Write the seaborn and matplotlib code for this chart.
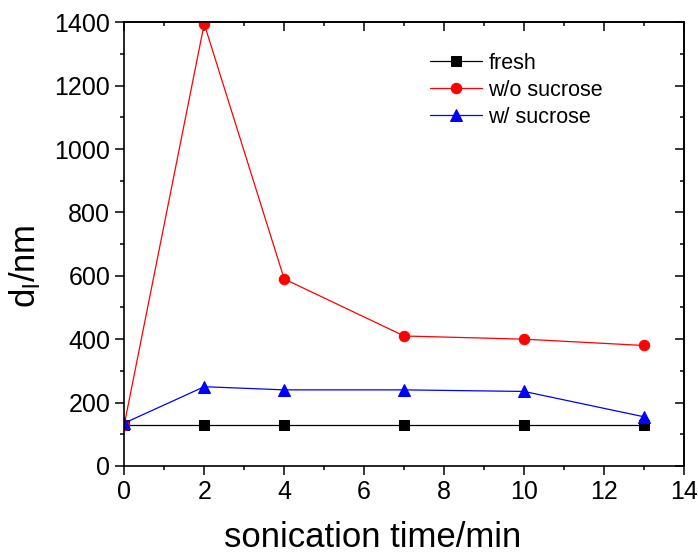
import matplotlib
matplotlib.use("Agg")
import matplotlib.pyplot as plt
import seaborn as sns
from matplotlib.ticker import MultipleLocator

# data
time_min = [0, 2, 4, 7, 10, 13]
fresh = [130, 130, 130, 130, 130, 130]
wo_sucrose = [130, 1395, 590, 410, 400, 380]
w_sucrose = [135, 250, 240, 240, 235, 155]

sns.set_style("ticks")
plt.rcParams['font.family'] = ['Liberation Sans', 'DejaVu Sans']
plt.rcParams['mathtext.fontset'] = 'custom'
plt.rcParams['mathtext.rm'] = 'Liberation Sans'
plt.rcParams['mathtext.it'] = 'Liberation Sans'
plt.rcParams['text.color'] = 'black'
plt.rcParams['axes.labelcolor'] = 'black'
plt.rcParams['xtick.color'] = 'black'
plt.rcParams['ytick.color'] = 'black'
plt.rcParams['axes.edgecolor'] = 'black'

fig = plt.figure(figsize=(6.98, 5.56), dpi=100)
ax = fig.add_axes([0.178, 0.162, 0.802, 0.798])

series = [
    ("fresh", fresh, "black", "s", 6.5),
    ("w/o sucrose", wo_sucrose, "red", "o", 7.5),
    ("w/ sucrose", w_sucrose, "blue", "^", 9),
]
for name, vals, col, mk, ms in series:
    sns.lineplot(x=time_min, y=vals, ax=ax, color=col, marker=mk, markersize=ms,
                 markeredgecolor=col, linewidth=0.9, label=name)

ax.set_xlim(0, 14)
ax.set_ylim(0, 1400)
ax.xaxis.set_major_locator(MultipleLocator(2))
ax.xaxis.set_minor_locator(MultipleLocator(1))
ax.yaxis.set_major_locator(MultipleLocator(200))
ax.yaxis.set_minor_locator(MultipleLocator(100))
ax.tick_params(which='major', direction='out', length=6.5, width=1.1, labelsize=18)
ax.tick_params(which='minor', direction='out', length=3, width=1.1)
for s in ax.spines.values():
    s.set_linewidth(1.2)
    s.set_visible(True)

# inward ticks on top and right
top = ax.secondary_xaxis('top')
top.xaxis.set_major_locator(MultipleLocator(2))
top.xaxis.set_minor_locator(MultipleLocator(1))
top.tick_params(which='both', direction='in', labeltop=False, width=1.1)
top.tick_params(which='major', length=6.5)
top.tick_params(which='minor', length=3)
top.spines['top'].set_linewidth(1.2)
right = ax.secondary_yaxis('right')
right.yaxis.set_major_locator(MultipleLocator(200))
right.yaxis.set_minor_locator(MultipleLocator(100))
right.tick_params(which='both', direction='in', labelright=False, width=1.1)
right.tick_params(which='major', length=6.5)
right.tick_params(which='minor', length=3)
right.spines['right'].set_linewidth(1.2)

ax.set_xlabel("sonication time/min", fontsize=25)
ax.xaxis.set_label_coords(0.443, -0.125)
ax.set_ylabel(r"d$_\mathrm{l}$/nm", fontsize=25)
ax.yaxis.set_label_coords(-0.146, 0.45)

ax.legend(loc='upper left', bbox_to_anchor=(0.512, 0.975), frameon=False,
          fontsize=15.5, handlelength=2.4, handletextpad=0.3, labelspacing=0.28)

fig.savefig("out.png", dpi=100)
